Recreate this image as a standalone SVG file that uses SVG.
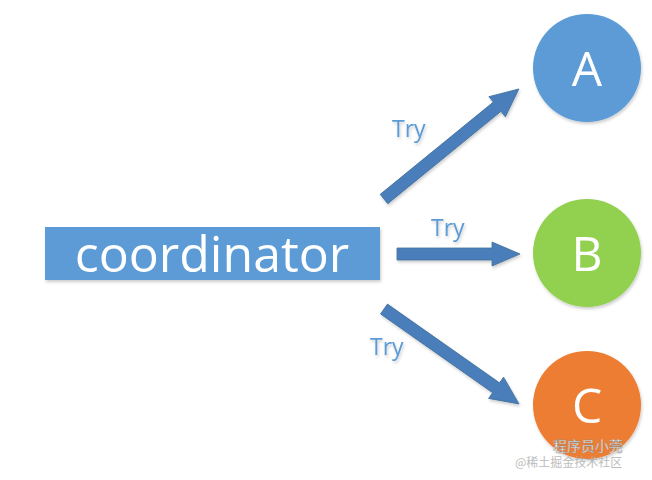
<svg xmlns="http://www.w3.org/2000/svg" width="652" height="480" viewBox="0 0 652 480">
<style>
.lbl{font-family:"Open Sans","Liberation Sans",sans-serif;fill:#5B9BD5;font-size:23px}
.big{font-family:"Open Sans","Liberation Sans",sans-serif;fill:#fff;text-anchor:middle}
.arr{fill:#4A7EBB;stroke:#41719C;stroke-width:0.8}
</style>
<defs>
<filter id="sh" x="-20%" y="-20%" width="140%" height="140%">
<feDropShadow dx="1" dy="2" stdDeviation="1.5" flood-color="#000" flood-opacity="0.2"/>
</filter>
</defs>
<rect width="652" height="480" fill="#fff"/>
<g id="coordinator" filter="url(#sh)">
<rect x="45" y="227" width="335" height="53" fill="#5B9BD5"/>
<text class="big" x="212" y="272" font-size="50">coordinator</text>
</g>
<g id="A" filter="url(#sh)">
<circle cx="587" cy="68" r="54" fill="#5B9BD5"/>
<text class="big" x="587" y="86" font-size="48">A</text>
</g>
<g id="B" filter="url(#sh)">
<circle cx="587" cy="253" r="54" fill="#92D050"/>
<text class="big" x="587" y="271" font-size="48">B</text>
</g>
<g id="C" filter="url(#sh)">
<circle cx="587" cy="405" r="54" fill="#ED7D31"/>
<text class="big" x="587" y="423" font-size="48">C</text>
</g>
<g id="connectors" filter="url(#sh)">
<path class="arr" transform="translate(384,199) rotate(-39.2)" d="M0,-6 L146,-6 L146,-13 L174,0 L146,13 L146,6 L0,6 Z"/>
<path class="arr" transform="translate(397,254)" d="M0,-6 L95,-6 L95,-12 L123,0 L95,12 L95,6 L0,6 Z"/>
<path class="arr" transform="translate(384,309) rotate(35.1)" d="M0,-6 L137,-6 L137,-13 L165,0 L137,13 L137,6 L0,6 Z"/>
<text class="lbl" x="392" y="137">Try</text>
<text class="lbl" x="431" y="236">Try</text>
<text class="lbl" x="370" y="355">Try</text>
</g>
<g id="watermark" font-family="'Noto Sans CJK SC',sans-serif">
<text x="553" y="451" font-size="14" fill="#fff" stroke="#888" stroke-width="0.4">程序员小莞</text>
<text x="515" y="467" font-size="12" fill="#aaa" fill-opacity="0.8">@稀土掘金技术社区</text>
</g>
</svg>
